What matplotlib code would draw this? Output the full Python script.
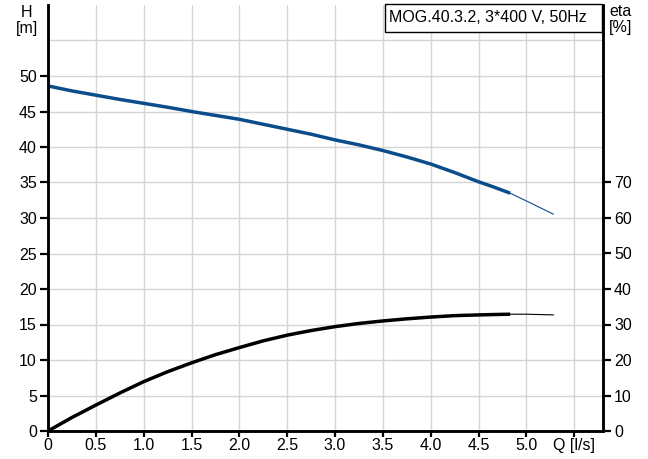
import numpy as np
import matplotlib
matplotlib.use("Agg")
import matplotlib.pyplot as plt
from matplotlib.patches import Rectangle

plt.rcParams['font.family'] = ['Liberation Sans', 'DejaVu Sans']

# pump head H [m] over flow Q [l/s]; thick part = operating range, thin = extension
q_head = [0.0, 0.25, 0.5, 0.75, 1.0, 1.25, 1.5, 1.75, 2.0, 2.25, 2.5, 2.75,
          3.0, 3.25, 3.5, 3.75, 4.0, 4.25, 4.5, 4.65, 4.83]
head = [48.6, 47.9, 47.3, 46.7, 46.15, 45.6, 45.0, 44.45, 43.9, 43.2, 42.5, 41.8,
        41.0, 40.3, 39.5, 38.6, 37.6, 36.4, 35.1, 34.4, 33.5]
q_head_ext = [4.83, 5.0, 5.28]
head_ext = [33.5, 32.4, 30.55]

# efficiency eta [%]
q_eta = [0.0, 0.25, 0.5, 0.75, 1.0, 1.25, 1.5, 1.75, 2.0, 2.25, 2.5, 2.75,
         3.0, 3.25, 3.5, 3.75, 4.0, 4.25, 4.5, 4.65, 4.83]
eta = [0.0, 3.8, 7.3, 10.7, 13.9, 16.7, 19.2, 21.5, 23.5, 25.4, 27.0, 28.3,
       29.4, 30.3, 31.0, 31.6, 32.1, 32.5, 32.7, 32.8, 32.9]
q_eta_ext = [4.83, 5.0, 5.28]
eta_ext = [32.9, 32.9, 32.7]

q_ticks = [0, 0.5, 1.0, 1.5, 2.0, 2.5, 3.0, 3.5, 4.0, 4.5, 5.0, 5.5]
q_labels = ['0', '0.5', '1.0', '1.5', '2.0', '2.5', '3.0', '3.5', '4.0', '4.5', '5.0', 'Q [l/s]']
h_ticks = list(range(0, 55, 5))
eta_ticks = list(range(0, 80, 10))
title = "MOG.40.3.2, 3*400 V, 50Hz"

blue = '#0b4d8b'
fs = 11.5

W, H = 648, 459
fig = plt.figure(figsize=(W / 100, H / 100), dpi=100)
ax = fig.add_axes([48 / W, 1 - 431 / H, 555 / W, 426 / H])
ax2 = ax.twinx()

ax.set_xlim(0, 5.8)
ax.set_ylim(0, 60)
ax2.set_ylim(0, 120)

# grid
for x in q_ticks[1:]:
    ax.axvline(x, color='#d3d5d8', lw=1.0, zorder=0)
for y in range(5, 60, 5):
    ax.axhline(y, color='#d3d5d8', lw=1.0, zorder=0)

ax.plot(q_head, head, color=blue, lw=2.5, solid_capstyle='butt', zorder=3)
ax.plot(q_head_ext, head_ext, color=blue, lw=0.8, zorder=3)
ax2.plot(q_eta, eta, color='black', lw=2.5, solid_capstyle='butt', zorder=3)
ax2.plot(q_eta_ext, eta_ext, color='black', lw=0.8, zorder=3)

ax.set_xticks(q_ticks)
ax.set_xticklabels(q_labels)
ax.set_yticks(h_ticks)
ax2.set_yticks(eta_ticks)

for a in (ax, ax2):
    a.spines['top'].set_visible(False)
    for s in ('left', 'right', 'bottom'):
        a.spines[s].set_linewidth(1.8)
        a.spines[s].set_color('black')
    a.tick_params(axis='both', direction='out', length=6, width=1.6,
                  labelsize=fs, pad=2, colors='black')
ax.tick_params(axis='x', length=4, pad=1)

fig.text(27 / W, 1 - 5 / H, "H\n[m]", ha='center', va='top', fontsize=fs,
         linespacing=1.05)
fig.text(621 / W, 1 - 4 / H, "eta\n[%]", ha='center', va='top', fontsize=fs,
         linespacing=1.05)

# model box in the upper right corner
fig.patches.append(Rectangle((385 / W, 1 - 32 / H), 217 / W, 28 / H,
                             transform=fig.transFigure, fc='white', ec='black',
                             lw=1.0, zorder=5))
fig.text(389 / W, 1 - 18 / H, title, ha='left', va='center', fontsize=fs,
         zorder=6)

fig.savefig('out.png', dpi=100)
